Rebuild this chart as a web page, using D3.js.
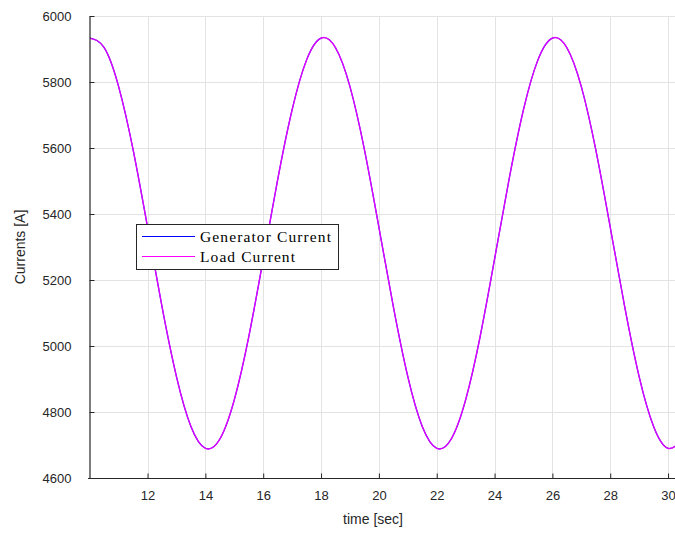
<!DOCTYPE html>
<html>
<head>
<meta charset="utf-8">
<script src="https://cdn.jsdelivr.net/npm/d3@7"></script>
<style>
body{margin:0;background:#fff;}
svg{display:block;}
</style>
</head>
<body>
<svg id="chart" width="675" height="535"></svg>
<script>
const time = [10,10.5,11,11.5,12,12.5,13,13.5,14,14.5,15,15.5,16,16.5,17,17.5,
  18,18.5,19,19.5,20,20.5,21,21.5,22,22.5,23,23.5,24,24.5,25,25.5,
  26,26.5,27,27.5,28,28.5,29,29.5,30,30.5];
const generatorCurrent = [5933,5904,5786,5595,5360,5119,4907,4756,4690,4718,4837,5028,5263,5504,5716,5867,
  5933,5904,5786,5595,5360,5119,4907,4756,4690,4718,4837,5028,5263,5504,5716,5867,
  5933,5904,5786,5595,5360,5119,4907,4756,4690,4718];
const loadCurrent = [5933,5904,5786,5595,5360,5119,4907,4756,4690,4718,4837,5028,5263,5504,5716,5867,
  5933,5904,5786,5595,5360,5119,4907,4756,4690,4718,4837,5028,5263,5504,5716,5867,
  5933,5904,5786,5595,5360,5119,4907,4756,4690,4718];
const xTicks = [12,14,16,18,20,22,24,26,28,30];
const yTicks = [4600,4800,5000,5200,5400,5600,5800,6000];
const seriesNames = ["Generator Current","Load Current"];
const seriesColors = ["#0000ff","#ff00ff"];

const svg = d3.select("#chart");
const L = 90, R = 675, T = 16, B = 478;
const x = d3.scaleLinear().domain([10.01, 30.24]).range([L, R]);
const y = d3.scaleLinear().domain([4600, 6000]).range([B, T]);

// grid
const grid = svg.append("g").attr("stroke", "#e3e3e3").attr("stroke-width", 1);
xTicks.forEach(t => grid.append("line")
  .attr("x1", Math.round(x(t)) + 0.5).attr("x2", Math.round(x(t)) + 0.5)
  .attr("y1", T).attr("y2", B));
yTicks.forEach(t => grid.append("line")
  .attr("x1", L).attr("x2", R)
  .attr("y1", Math.round(y(t)) + 0.5).attr("y2", Math.round(y(t)) + 0.5));

// lines
svg.append("clipPath").attr("id", "clip").append("rect")
  .attr("x", L).attr("y", T).attr("width", R - L).attr("height", B - T);
const line = d3.line().x((d, i) => x(time[i])).y(d => y(d)).curve(d3.curveNatural);
svg.append("path").datum(generatorCurrent).attr("clip-path", "url(#clip)")
  .attr("d", line).attr("fill", "none").attr("stroke", seriesColors[0]).attr("stroke-width", 1.2);
svg.append("path").datum(loadCurrent).attr("clip-path", "url(#clip)")
  .attr("d", line).attr("fill", "none").attr("stroke", seriesColors[1]).attr("stroke-opacity", 0.86).attr("stroke-width", 1.4);

// axes
const axColor = "#262626";
const xAxis = svg.append("g").attr("transform", `translate(0,${B + 0.5})`)
  .call(d3.axisBottom(x).tickValues(xTicks).tickSize(-5).tickSizeOuter(0).tickPadding(12).tickFormat(d3.format("d")));
const yAxis = svg.append("g").attr("transform", `translate(${L - 0.5},0)`)
  .call(d3.axisLeft(y).tickValues(yTicks).tickSize(-5).tickSizeOuter(0).tickPadding(18).tickFormat(d3.format("d")));
[xAxis, yAxis].forEach(a => {
  a.select(".domain").attr("stroke", axColor).attr("stroke-width", 1.2);
  a.selectAll(".tick line").attr("stroke", axColor);
  a.selectAll("text").attr("fill", "#262626")
    .style("font-family", "'Liberation Sans', Arial, sans-serif").style("font-size", "13px");
});
xAxis.select(".domain").attr("d", `M${L - 2},0H${R}`);

// axis labels
svg.append("text").attr("x", 373).attr("y", 524).attr("text-anchor", "middle")
  .attr("fill", "#262626").style("font-family", "'Liberation Sans', Arial, sans-serif")
  .style("font-size", "14px").text("time [sec]");
svg.append("text").attr("transform", "translate(25,247) rotate(-90)").attr("text-anchor", "middle")
  .attr("fill", "#262626").style("font-family", "'Liberation Sans', Arial, sans-serif")
  .style("font-size", "14px").text("Currents [A]");

// legend
const lg = svg.append("g");
lg.append("rect").attr("x", 136.5).attr("y", 224.5).attr("width", 202).attr("height", 45)
  .attr("fill", "#fff").attr("stroke", "#262626").attr("stroke-width", 1);
const legendWidths = [131, 95];
seriesNames.forEach((n, i) => {
  const yy = 236.5 + i * 20;
  lg.append("line").attr("x1", 142).attr("x2", 195).attr("y1", yy).attr("y2", yy)
    .attr("stroke", seriesColors[i]).attr("stroke-width", 1);
  lg.append("text").attr("x", 200).attr("y", yy + 5).attr("fill", "#000")
    .attr("textLength", legendWidths[i]).attr("lengthAdjust", "spacing")
    .style("font-family", "'Liberation Serif', 'DejaVu Serif', serif").style("font-size", "15.5px")
    .text(n);
});
</script>
</body>
</html>
